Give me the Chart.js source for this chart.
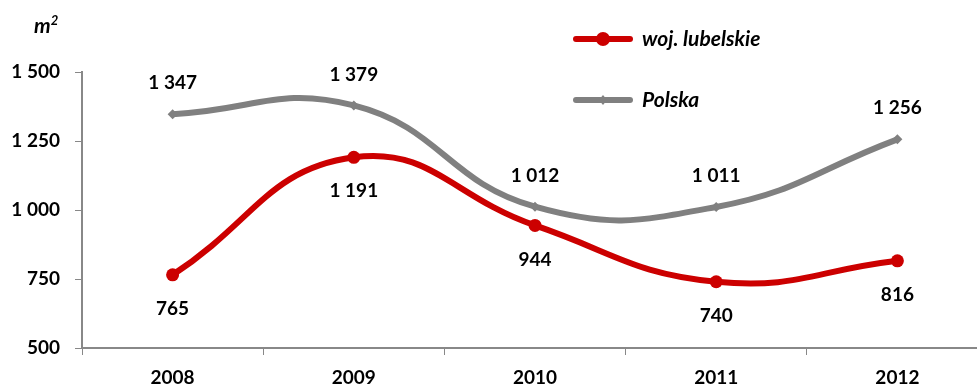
<!DOCTYPE html>
<html>
<head>
<meta charset="utf-8">
<script src="https://cdn.jsdelivr.net/npm/chart.js@4/dist/chart.umd.min.js"></script>
<style>
  html, body { margin: 0; padding: 0; background: #fff; overflow: hidden; }
  #wrap { position: relative; width: 996px; height: 388px; }
  #unit { position: absolute; left: 34px; top: 12px; font: italic bold 21px Lato, sans-serif; color: #000; }
  #unit sup { font-size: 13px; }
</style>
</head>
<body>
<div id="wrap">
  <canvas id="wykres" width="996" height="388"></canvas>
  <div id="unit">m<sup>2</sup></div>
</div>
<script>
// Powierzchnia mieszkania (m2) - lata 2008-2012
const lata = ["2008", "2009", "2010", "2011", "2012"];
const lubelskie = [765, 1191, 944, 740, 816];
const polska = [1347, 1379, 1012, 1011, 1256];
const osY = [500, 750, 1000, 1250, 1500];

const CZCIONKA = "Lato, sans-serif";

function formatLiczby(v) {
    // spacja jako separator tysięcy
    return String(v).replace(/\B(?=(\d{3})+(?!\d))/g, " ");
}

/* ============================
      ETYKIETY WARTOŚCI + LEGENDA
============================ */
const etykiety = {
    id: "etykiety",
    afterDatasetsDraw(chart) {
        const ctx = chart.ctx;
        ctx.save();
        ctx.font = "bold 19px " + CZCIONKA;
        ctx.fillStyle = "#000";
        ctx.textAlign = "center";
        ctx.textBaseline = "middle";
        chart.data.datasets.forEach((ds, i) => {
            const meta = chart.getDatasetMeta(i);
            meta.data.forEach((pt, j) => {
                const dy = ds.polozenie === "gora" ? -31 : 34;
                ctx.fillText(formatLiczby(ds.data[j]), pt.x, pt.y + dy);
            });
        });

        // legenda: linia z markerem i podpis
        const wpisy = [
            { ds: chart.data.datasets[0], y: 39 },
            { ds: chart.data.datasets[1], y: 100 }
        ];
        wpisy.forEach(w => {
            ctx.strokeStyle = w.ds.borderColor;
            ctx.lineWidth = w.ds.borderWidth;
            ctx.lineCap = "round";
            ctx.beginPath();
            ctx.moveTo(576, w.y);
            ctx.lineTo(630, w.y);
            ctx.stroke();
            ctx.fillStyle = w.ds.borderColor;
            if (w.ds.pointStyle === "circle") {
                ctx.beginPath();
                ctx.arc(603, w.y, 7, 0, Math.PI * 2);
                ctx.fill();
            } else {
                ctx.beginPath();
                ctx.moveTo(603, w.y - 5);
                ctx.lineTo(607, w.y);
                ctx.lineTo(603, w.y + 5);
                ctx.lineTo(599, w.y);
                ctx.closePath();
                ctx.fill();
            }
            ctx.fillStyle = "#000";
            ctx.textAlign = "left";
            ctx.font = "italic bold 21px " + CZCIONKA;
            ctx.fillText(w.ds.label, 642, w.y);
        });
        ctx.restore();
    }
};

new Chart(document.getElementById("wykres"), {
    type: "line",
    data: {
        labels: lata,
        datasets: [{
            label: "woj. lubelskie",
            data: lubelskie,
            borderColor: "#cc0000",
            backgroundColor: "#cc0000",
            borderWidth: 6,
            pointStyle: "circle",
            pointRadius: 6.5,
            pointBorderWidth: 0,
            tension: 0.45,
            polozenie: "dol"
        }, {
            label: "Polska",
            data: polska,
            borderColor: "#808080",
            backgroundColor: "#808080",
            borderWidth: 6,
            pointStyle: "rectRot",
            pointRadius: 5,
            pointBorderWidth: 0,
            tension: 0.45,
            polozenie: "gora"
        }]
    },
    options: {
        responsive: false,
        animation: false,
        layout: { padding: { top: 72, right: 8, left: 0, bottom: 0 } },
        plugins: { legend: { display: false }, tooltip: { enabled: false } },
        scales: {
            x: {
                offset: true,
                grid: { offset: true, drawOnChartArea: false, color: "#888", tickLength: 7 },
                border: { color: "#888", width: 2 },
                ticks: { color: "#000", font: { family: CZCIONKA, size: 19, weight: "bold" }, padding: 11 },
                afterFit(s) { s.height = 40; }
            },
            y: {
                min: 500,
                max: 1500,
                afterBuildTicks(s) { s.ticks = osY.map(v => ({ value: v })); },
                grid: { drawOnChartArea: false, color: "#888", tickLength: 7 },
                border: { color: "#888", width: 2 },
                ticks: {
                    color: "#000",
                    font: { family: CZCIONKA, size: 19, weight: "bold" },
                    padding: 15,
                    callback: v => formatLiczby(v)
                },
                afterFit(s) { s.width = 82; }
            }
        }
    },
    plugins: [etykiety]
});
</script>
</body>
</html>
